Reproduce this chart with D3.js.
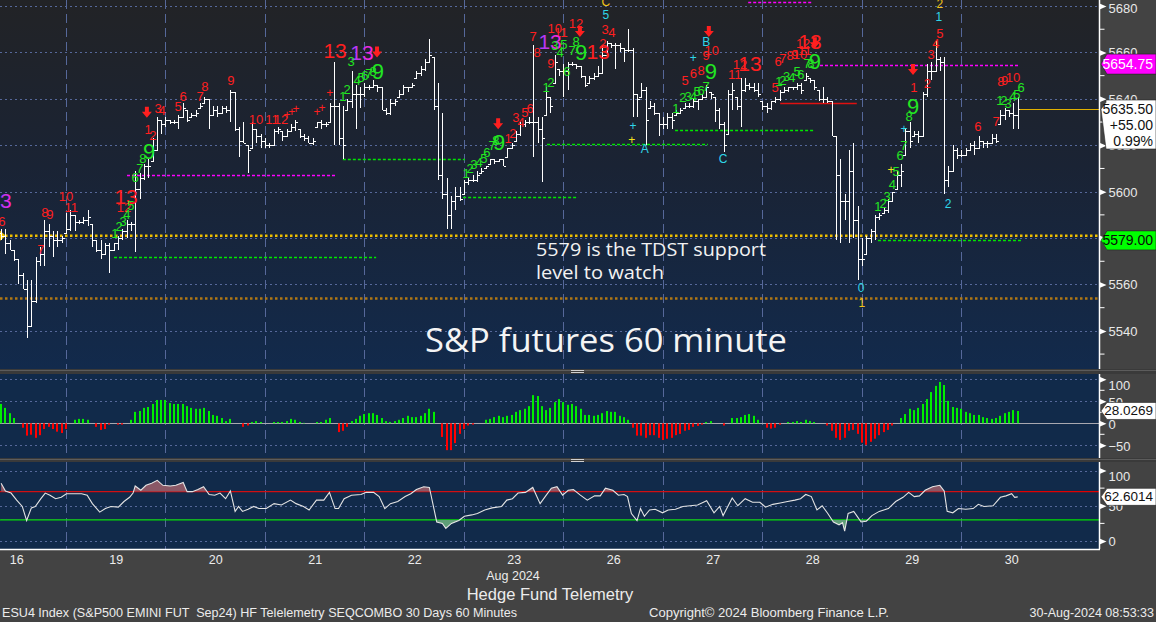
<!DOCTYPE html>
<html><head><meta charset="utf-8">
<script src="https://cdn.jsdelivr.net/npm/d3@7"></script>
<style>
body{margin:0;background:#434343;overflow:hidden}
svg{display:block}
text{font-family:"Liberation Sans",Arial,sans-serif}
</style></head>
<body><svg id="c" width="1156" height="622"></svg>
<script>
// ---------------- DATA ----------------
const days = ["16","19","20","21","22","23","26","27","28","29","30"];
const dayStartIdx = [15,38,61,84,107,130,153,176,199,222];
const priceTicks = [5540,5560,5580,5600,5620,5640,5660,5680];
const histTicks = [-50,0,50,100];
const rsiTicks = [0,50,100];

const opens = [5582,5581,5578,5575,5571,5564,5558,5542,5553,5570,5573,5583,5581,5579,5579,
5580,5584,5590,5587,5587,5588,5589,5579,5575,5573,5577,5575,5578,5580,5583,5586,5586,5601,5606,5611,5611,5618,5631,
5629,5631,5630,5630,5632,5636,5631,5633,5634,5637,5640,5633,5635,5634,5636,5635,5643,5627,5622,5621,5618,5627,5624,
5622,5620,5620,5626,5627,5624,5626,5628,5630,5624,5623,5621,5622,5630,5629,5629,5637,5637,5623,5620,5639,5642,5642,
5642,5645,5645,5646,5645,5635,5634,5638,5639,5642,5645,5645,5646,5651,5653,5656,5659,5637,5607,5599,5590,5596,5598,
5597,5604,5605,5605,5607,5609,5611,5614,5613,5614,5611,5619,5620,5625,5629,5630,5630,5630,5627,5623,5641,5637,5656,
5652,5652,5655,5655,5654,5650,5646,5649,5650,5651,5659,5664,5663,5663,5662,5661,5661,5642,5640,5644,5631,5637,5634,
5629,5629,5632,5631,5634,5635,5637,5637,5639,5640,5641,5645,5642,5635,5629,5620,5642,5644,5637,5644,5646,5645,5644,
5642,5637,5636,5639,5640,5643,5644,5645,5645,5646,5644,5650,5648,5645,5640,5640,5639,5624,5607,5596,5596,5609,5588,
5571,5571,5580,5583,5589,5590,5592,5596,5600,5607,5609,5626,5622,5625,5624,5642,5652,5652,5657,5656,5605,5609,5618,
5616,5616,5618,5620,5619,5622,5621,5621,5623,5622,5633,5635,5634,5633];
const highs = [5584,5584,5579,5575,5571,5565,5562,5562,5572,5576,5588,5586,5583,5583,5581,
5591,5592,5590,5588,5589,5592,5586,5579,5579,5578,5578,5578,5581,5584,5588,5587,5609,5608,5612,5614,5623,5632,5631,
5632,5631,5631,5633,5638,5635,5634,5635,5638,5641,5640,5637,5637,5637,5637,5644,5643,5628,5630,5620,5630,5627,5625,
5623,5621,5627,5628,5626,5627,5629,5631,5627,5625,5624,5623,5630,5631,5630,5638,5656,5638,5637,5640,5652,5646,5645,
5647,5646,5648,5646,5645,5636,5640,5640,5644,5646,5645,5647,5652,5654,5657,5666,5658,5647,5634,5606,5598,5602,5602,
5605,5606,5607,5609,5610,5611,5614,5614,5614,5614,5619,5621,5626,5630,5631,5632,5663,5632,5632,5645,5641,5659,5653,
5655,5656,5656,5655,5654,5650,5650,5651,5654,5663,5665,5664,5664,5664,5662,5670,5662,5642,5647,5645,5639,5638,5634,
5632,5634,5634,5635,5636,5638,5638,5640,5640,5642,5646,5643,5641,5636,5630,5644,5647,5641,5649,5649,5647,5647,5647,
5639,5638,5639,5641,5644,5645,5645,5645,5647,5647,5651,5649,5648,5644,5645,5641,5639,5624,5614,5599,5618,5621,5594,
5580,5581,5584,5590,5591,5593,5597,5600,5609,5612,5627,5630,5626,5626,5643,5655,5656,5665,5658,5658,5611,5620,5619,
5618,5619,5621,5622,5624,5622,5622,5625,5625,5635,5636,5635,5638,5641];
const lows = [5579,5573,5575,5570,5560,5558,5537,5542,5552,5568,5568,5576,5572,5576,5578,
5582,5583,5583,5586,5586,5585,5576,5574,5571,5573,5565,5575,5575,5579,5580,5583,5574,5597,5605,5606,5613,5618,5625,
5628,5629,5629,5627,5632,5630,5632,5632,5636,5638,5627,5633,5632,5634,5634,5630,5626,5615,5621,5608,5619,5621,5619,
5619,5619,5620,5625,5622,5624,5626,5626,5623,5622,5621,5620,5628,5627,5628,5630,5620,5620,5614,5635,5636,5627,5636,
5641,5644,5645,5643,5635,5633,5633,5637,5641,5642,5643,5645,5649,5650,5652,5656,5635,5605,5597,5584,5584,5592,5596,
5599,5603,5604,5604,5608,5610,5612,5612,5613,5611,5615,5619,5622,5624,5628,5629,5615,5621,5604,5633,5634,5647,5650,
5641,5644,5654,5653,5649,5645,5647,5648,5650,5651,5658,5662,5653,5660,5656,5660,5632,5632,5641,5620,5636,5633,5624,
5627,5627,5627,5633,5634,5636,5636,5636,5635,5640,5641,5640,5630,5627,5617,5625,5635,5635,5628,5643,5644,5643,5641,
5635,5634,5635,5638,5639,5643,5643,5644,5644,5642,5648,5647,5644,5639,5638,5638,5624,5579,5578,5588,5578,5580,5562,
5568,5573,5578,5579,5588,5591,5591,5596,5601,5602,5616,5619,5624,5621,5624,5641,5648,5652,5652,5599,5602,5609,5614,
5615,5616,5618,5616,5619,5619,5619,5621,5621,5629,5631,5632,5627,5627];
const closes = [5581,5578,5575,5571,5564,5558,5542,5553,5570,5573,5583,5581,5579,5579,5580,
5584,5590,5587,5587,5588,5589,5579,5575,5573,5577,5575,5578,5580,5583,5586,5586,5601,5606,5611,5611,5618,5631,5629,
5631,5630,5630,5632,5636,5631,5633,5634,5637,5640,5633,5635,5634,5636,5635,5643,5627,5622,5621,5618,5627,5624,5622,
5620,5620,5626,5627,5624,5626,5628,5630,5624,5623,5621,5622,5630,5629,5629,5637,5637,5623,5620,5639,5642,5642,5642,
5645,5645,5646,5645,5635,5634,5638,5639,5642,5645,5645,5646,5651,5653,5656,5659,5637,5607,5599,5590,5596,5598,5597,
5604,5605,5605,5607,5609,5611,5614,5613,5614,5611,5619,5620,5625,5629,5630,5630,5630,5627,5623,5641,5637,5656,5652,
5652,5655,5655,5654,5650,5646,5649,5650,5651,5659,5664,5663,5663,5662,5661,5661,5642,5640,5644,5631,5637,5634,5629,
5629,5632,5631,5634,5635,5637,5637,5639,5640,5641,5645,5642,5635,5629,5620,5642,5644,5637,5644,5646,5645,5644,5642,
5637,5636,5639,5640,5643,5644,5645,5645,5646,5644,5650,5648,5645,5640,5640,5639,5624,5607,5596,5596,5609,5588,5571,
5571,5580,5583,5589,5590,5592,5596,5600,5607,5609,5626,5622,5625,5624,5642,5652,5652,5657,5656,5605,5609,5618,5616,
5616,5618,5620,5619,5622,5621,5621,5623,5622,5633,5635,5634,5633,5635.5];

const histVals = [44,35,23,12,0,-10,-28,-26,-33,-27,-13,-8,-13,-19,-22,
-13,0,8,10,10,8,0,-8,-15,-13,-3,0,-3,-3,0,8,26,28,35,37,44,53,53,
53,46,44,44,44,39,35,33,33,35,28,19,17,12,5,10,0,0,-8,-5,3,5,3,
0,0,3,3,3,5,10,8,3,1,0,0,3,3,8,12,0,-20,-17,-8,5,10,17,
21,23,23,19,12,5,3,5,8,12,17,14,14,17,23,33,26,0,-31,-61,-61,-45,-24,
-13,-5,-3,0,0,8,10,14,17,14,17,19,26,30,33,39,64,62,39,30,35,48,55,
48,42,44,39,33,19,19,17,19,23,28,26,26,17,14,8,-10,-28,-28,-33,-27,-27,-33,
-38,-35,-33,-27,-24,-17,-15,-8,-6,-3,3,5,0,0,-5,0,12,12,14,19,21,17,8,
0,-10,-12,-10,-3,0,3,3,5,3,8,5,3,0,0,-5,-17,-33,-38,-33,-17,-15,-24,
-44,-49,-42,-35,-27,-20,-15,-5,0,12,21,33,30,35,44,55,71,85,94,87,51,37,35,
33,26,23,19,19,14,12,10,12,17,23,26,30,28.0269];

const rsiIdx = [0,1,2.3,3.6,4.9,5.9,7,7.9,9.2,10.2,11.3,12.6,13.9,15.1,16.9,18.6,19.9,21.1,22.8,24.1,
25.4,27.1,28.4,29.7,30.5,31,32.3,33.5,34.8,36.1,37.4,39.1,40.4,42.1,43,44.2,45.5,46.8,48.1,49.4,
50.6,51.9,53,54.1,54.9,55.8,57.1,58.4,59.6,61.3,63.1,64.8,66.9,68.2,69.9,71.2,72.9,74.6,75.9,77.2,
78,79.3,81,83.2,84.4,86.1,87.4,88.7,90,91.7,93.4,94.7,96,97.7,99,99.8,100.7,102,102.8,104.1,
105.8,107.1,108.8,110.1,111.8,113.5,115.7,116.9,118.2,119.5,121.2,122.9,124.6,125.9,127.2,128.5,129.8,131.1,132.3,133.9,
135.5,137.2,138.5,139.7,141.4,142.7,144,144.8,145.7,147,147.8,148.7,149.9,151.2,152.9,154.2,155.9,157.6,159.3,161,
163.1,164.8,166.1,166.9,169,170.3,172,173.7,175.4,176.7,178.4,180.1,181.8,183.5,184.8,186,187.3,188.6,189.8,191.1,
192.4,193.7,194.5,195,195.8,197.1,197.9,198.8,200,201.3,203,205.1,206.8,208.5,209.8,211.1,212.3,213.6,215.3,217,
218,218.7,220,221.3,223,224.7,225.9,227.2,229.3,231,232.3,233.6,234.3,235];
const rsiVals = [82,71,68,58,49,29,47,49,60,68,65,60,62,67,67,67,65,53,41,46,
49,48,56,62,68,78,72,79,82,86,79,78,79,83,70,70,73,77,66,65,
68,60,71,42,49,42,45,49,46,46,53,51,58,53,49,44,58,58,69,46,
46,60,65,66,69,69,63,46,53,56,63,67,73,77,76,53,27,25,18,25,
29,35,37,39,44,47,49,58,60,68,69,76,53,64,75,77,65,72,73,65,
58,64,64,75,72,65,66,63,39,29,46,35,44,45,40,44,45,49,50,51,
57,40,49,36,61,50,60,55,55,48,52,54,56,58,60,66,63,44,50,39,
27,23,26,14,39,42,35,27,28,36,42,46,56,62,69,63,64,72,77,79,
71,42,40,46,45,46,52,49,50,62,64,67,62,62.6014];
const rsiUpper = 70, rsiLower = 30;

// TD sequential annotations: [bar index, price, text, kind]
const marks = [
[1.1,5596,"3","M"],[0.2,5587,"6","r"],[9.2,5575,"7","r"],[10.1,5591,"8","r"],[11.3,5590,"9","r"],
[15,5598,"10","r"],[16.2,5593,"11","r"],[28.4,5593,"12","r"],[28.9,5598,"13","R"],
[26.3,5582,"1","g"],[27.3,5585,"2","g"],[28.2,5587,"3","g"],[29.1,5590,"4","g"],[30,5594,"5","g"],
[31,5606,"6","g"],[32.1,5610,"7","g"],[32.8,5614.5,"8","g"],[34.2,5617.5,"9","G"],
[33.7,5634,"","a"],
[34,5626.6,"1","r"],[35.1,5624,"2","r"],[36.3,5636,"3","r"],[37.2,5635,"4","r"],
[40.9,5636.5,"5","r"],[42.1,5641,"6","r"],[46,5641,"7","r"],[47.1,5645.5,"8","r"],[53.1,5648,"9","r"],
[58.9,5631,"10","r"],[62.6,5631,"11","r"],[64.7,5631,"12","r"],
[66.1,5633,"+","pr"],[67.2,5634.3,"+","pr"],[68.2,5635.6,"+","pr"],[73,5634.3,"+","pr"],[74.2,5636,"+","pr"],[76,5642.5,"+","pr"],
[77.2,5661,"13","R"],[83.4,5660,"13","M"],[86.9,5660,"","a"],
[79,5641,"1","g"],[80,5644,"2","g"],[80.9,5656,"3","g"],[82.3,5648,"4","g"],[83.2,5649,"5","g"],[84.1,5650,"6","g"],[85,5651,"7","g"],[86,5652,"8","g"],[87.1,5652,"9","G"],
[107.5,5608,"1","g"],[108.4,5610,"2","g"],[109.3,5611.5,"3","g"],[110.5,5612.5,"4","g"],[111.6,5614.5,"5","g"],[112.3,5617,"6","g"],[113.5,5620,"7","g"],[114.4,5622,"8","g"],[115.1,5621,"9","G"],
[114.9,5629,"","a"],
[117.2,5623,"1","r"],[118.3,5625,"2","r"],[119,5632,"3","r"],[120.2,5630,"4","r"],[121.1,5634,"5","r"],[122.3,5636,"6","r"],
[123,5667,"7","r"],[123.9,5660,"8","r"],[127.1,5655.4,"9","r"],[128,5670.5,"10","r"],[129.4,5668.4,"11","r"],
[126.9,5664.5,"13","M"],
[126,5645,"1","g"],[127.1,5647,"2","g"],[128,5663,"3","g"],[129.2,5660,"4","g"],[130.1,5663.6,"5","g"],[130.8,5652,"6","g"],[132,5661,"7","g"],[132.9,5664.5,"8","g"],[134.1,5660,"9","G"],
[132.9,5672.3,"12","r"],[133.8,5668.8,"","a"],[138,5660.6,"13","R"],
[139.1,5664,"2","r"],[139.6,5669.7,"3","r"],[141.2,5668.8,"4","r"],[139.8,5676,"5","c"],[139.8,5681.7,"C","y"],
[146.1,5628.3,"+","pc"],[145.8,5622.3,"+","py"],[148.8,5618.4,"A","c"],
[156,5636,"1","g"],[157.6,5640.4,"2","g"],[158.8,5640.8,"3","g"],[160,5641.2,"4","g"],[160.9,5643,"5","g"],[161.8,5643.8,"6","g"],[163,5645.5,"7","g"],
[158.1,5648,"5","r"],[160,5651,"6","r"],[161.8,5652.4,"8","r"],[163,5658.5,"9","r"],[164.3,5661,"10","r"],[164.1,5651.6,"9","G"],[163,5664.5,"B","c"],[163.6,5668.8,"","a"],[160,5657.6,"+","pc"],
[166.9,5614,"C","c"],
[169.6,5650.3,"11","r"],[170.8,5654.6,"12","r"],[173.1,5655.4,"13","R"],
[178.9,5644.7,"5","r"],
[179.8,5647.3,"1","g"],[180.7,5648,"2","g"],[181.6,5649.8,"3","g"],[182.8,5649,"4","g"],[184,5651.6,"5","g"],[184.9,5650.3,"6","g"],[186.3,5655.4,"7","g"],[187.2,5655.4,"8","g"],[188.1,5656,"9","G"],
[179.6,5656.3,"6","r"],[180.7,5657.6,"7","r"],[182.4,5658.5,"8","r"],[183.5,5659,"9","r"],[184.7,5659.3,"10","r"],[185.8,5661,"11","r"],[185.4,5664,"12","r"],[187,5664.5,"13","R"],[188.1,5664,"","a"],
[198.8,5558.5,"0","c"],[199,5552,"1","y"],
[202.7,5593.4,"1","g"],[203.9,5595,"2","g"],[204.8,5598,"3","g"],[206,5603,"4","g"],[205.7,5609.3,"+","py"],[206.9,5608.5,"5","g"],[207.8,5615.4,"6","g"],[208.7,5620,"7","g"],[208.7,5627,"+","pc"],[209.9,5632.2,"8","g"],[210.8,5636.5,"9","G"],
[210.8,5652.4,"","a"],[211,5645,"1","r"],[214.1,5646.4,"2","r"],[215,5659.3,"3","r"],[216.1,5664,"4","r"],[217,5668,"5","r"],[216.8,5675.3,"1","c"],[217,5681,"2","y"],
[218.9,5594.7,"2","c"],
[225.8,5628,"6","r"],[230,5630.4,"7","r"],[231.1,5647.3,"8","r"],[232,5647.7,"9","r"],[233.9,5649,"10","r"],
[230.9,5639.5,"1","g"],[231.8,5639.5,"2","g"],[232.8,5637.8,"3","g"],[233.9,5641.2,"4","g"],[234.8,5642,"5","g"],[235.8,5644.7,"6","g"]
];

// TDST / risk levels: [from bar, to bar, price, kind]
const levels = [
[29.1,77.6,5607.2,"m"],[26.1,86.7,5571.8,"g"],[79,107.2,5614.1,"g"],[106.8,133.4,5597.7,"g"],
[126.2,163.4,5620.5,"g"],[155.8,187.7,5626.6,"g"],[180.1,197.8,5638.2,"r"],[189.3,235.5,5654.75,"m"],
[172.7,187.7,5681.7,"m"],[202.7,236,5579,"g"]
];
const userLines = [[5581,"yellow"],[5554,"brown"]];
const lastPrice = 5635.5, lastChange = "+55.00", lastPct = "0.99%";
const magLevel = 5654.75, tdstLevel = 5579.00;

// ---------------- CHART ----------------
const svg = d3.select("#c");
const PW = 1099;
const M = {top:0, bot:369}, HP = {top:374, bot:458}, RP = {top:462, bot:549};
const x = d3.scaleLinear().domain([0,235]).range([1.1,1017.7]);
const y = d3.scaleLinear().domain([5524,5682.6]).range([368,0]);
const yH = d3.scaleLinear().domain([-50,100]).range([445.3,379.3]);
const yR = d3.scaleLinear().domain([0,100]).range([541,470.5]);

const defs = svg.append("defs");
const bg = defs.append("linearGradient").attr("id","bgMain").attr("x1",0).attr("y1",0).attr("x2",0).attr("y2",1);
bg.append("stop").attr("offset","0%").attr("stop-color","#222326");
bg.append("stop").attr("offset","45%").attr("stop-color","#1a2334");
bg.append("stop").attr("offset","100%").attr("stop-color","#122a4c");
const mg = defs.append("linearGradient").attr("id","mag").attr("x1",0).attr("x2",1).attr("y1",0).attr("y2",0);
mg.append("stop").attr("offset","0%").attr("stop-color","#a040ff");
mg.append("stop").attr("offset","100%").attr("stop-color","#ff22d6");
defs.append("clipPath").attr("id","clipMain").append("rect").attr("x",0).attr("y",0).attr("width",PW).attr("height",M.bot);
defs.append("clipPath").attr("id","clipUp").append("rect").attr("x",0).attr("y",RP.top).attr("width",PW).attr("height",yR(rsiUpper)-RP.top);
defs.append("clipPath").attr("id","clipDn").append("rect").attr("x",0).attr("y",yR(rsiLower)).attr("width",PW).attr("height",RP.bot-yR(rsiLower));

svg.append("rect").attr("width",1156).attr("height",622).attr("fill","#434343");
svg.append("rect").attr("x",0).attr("y",0).attr("width",PW).attr("height",M.bot).attr("fill","url(#bgMain)");
svg.append("rect").attr("x",0).attr("y",HP.top).attr("width",PW).attr("height",HP.bot-HP.top).attr("fill","#112a4a");
svg.append("rect").attr("x",0).attr("y",RP.top).attr("width",PW).attr("height",RP.bot-RP.top).attr("fill","#112a4a");
// separators
[[M.bot,HP.top],[HP.bot,RP.top]].forEach(([a,b])=>{
  svg.append("rect").attr("x",0).attr("y",a).attr("width",1156).attr("height",b-a).attr("fill","#3a3a3a");
  svg.append("line").attr("x1",0).attr("x2",1156).attr("y1",a+1.5).attr("y2",a+1.5).attr("stroke","#5c5c5c").attr("stroke-width",1);
  svg.append("line").attr("x1",571).attr("x2",584).attr("y1",a+1.5).attr("y2",a+1.5).attr("stroke","#cfcfcf");
  svg.append("line").attr("x1",571).attr("x2",584).attr("y1",a+3.5).attr("y2",a+3.5).attr("stroke","#cfcfcf");
});

const gridCol = "#56689a";
[[M.top,M.bot],[HP.top,HP.bot],[RP.top,RP.bot]].forEach(([t,b])=>{
  svg.append("g").selectAll("line").data(dayStartIdx).join("line")
    .attr("x1",d=>Math.round(x(d))+0.5).attr("x2",d=>Math.round(x(d))+0.5)
    .attr("y1",t).attr("y2",b).attr("stroke",gridCol).attr("stroke-width",1).attr("stroke-dasharray","9,5");
});
function hgrid(vals, sc){
  svg.append("g").selectAll("line").data(vals).join("line")
    .attr("x1",0).attr("x2",PW).attr("y1",d=>Math.round(sc(d))+0.5).attr("y2",d=>Math.round(sc(d))+0.5)
    .attr("stroke",gridCol).attr("stroke-width",1).attr("stroke-dasharray","2,3");
}
hgrid(priceTicks, y);
hgrid(histTicks.filter(d=>d!==0), yH);
hgrid(rsiTicks, yR);

// ---------- main pane ----------
const mainG = svg.append("g").attr("clip-path","url(#clipMain)");
mainG.selectAll(".ul").data(userLines).join("line")
  .attr("x1",0).attr("x2",PW).attr("y1",d=>y(d[0])).attr("y2",d=>y(d[0]))
  .attr("stroke",d=>d[1]==="yellow"?"#f0c000":"#b07814").attr("stroke-width",2.5).attr("stroke-dasharray","2.5,2.5");
mainG.append("path").attr("d",`M0,${y(5581)-5}L6,${y(5581)}L0,${y(5581)+5}Z`).attr("fill","#f0c000");
const lvColor = {m:"#ff00ff", g:"#00e600", r:"#e01010"};
mainG.selectAll(".lv").data(levels).join("line")
  .attr("x1",d=>x(d[0])).attr("x2",d=>x(d[1])).attr("y1",d=>Math.round(y(d[2]))+0.5).attr("y2",d=>Math.round(y(d[2]))+0.5)
  .attr("stroke",d=>lvColor[d[3]]).attr("stroke-width",1.5)
  .attr("stroke-dasharray",d=>d[3]==="r"?null:"3,2");
svg.append("line").attr("x1",x(235)+2).attr("x2",PW).attr("y1",Math.round(y(lastPrice))+0.5).attr("y2",Math.round(y(lastPrice))+0.5)
  .attr("stroke","#e0b000").attr("stroke-width",1.2);

// OHLC bars
const bars = d3.range(closes.length);
const clamp = (v,a,b)=>Math.max(b,Math.min(a,v));
mainG.append("g").selectAll("path").data(bars).join("path")
  .attr("d",i=>{
    const cx = Math.round(x(i))+0.5;
    const o = Math.round(y(clamp(opens[i],highs[i],lows[i])))+0.5;
    const c = Math.round(y(closes[i]))+0.5;
    return `M${cx},${y(highs[i])}V${y(lows[i])}M${cx-2.5},${o}H${cx}M${cx},${c}H${cx+2.5}`;
  })
  .attr("stroke","#ffffff").attr("stroke-width",1).attr("fill","none").attr("shape-rendering","crispEdges");

// annotations
const ks = {
  r:{f:"#ff1f1f",s:13}, g:{f:"#22e622",s:13}, R:{f:"#ff1f1f",s:21}, G:{f:"#22e622",s:22},
  M:{f:"url(#mag)",s:21}, c:{f:"#2fd6e8",s:12}, y:{f:"#f2c419",s:12},
  pr:{f:"#ff1f1f",s:12}, pc:{f:"#2fd6e8",s:12}, py:{f:"#f4e21c",s:12}
};
mainG.append("g").selectAll("text").data(marks.filter(d=>d[3]!=="a")).join("text")
  .attr("x",d=>x(d[0])).attr("y",d=>y(d[1]))
  .attr("text-anchor","middle").attr("dominant-baseline","central")
  .attr("fill",d=>ks[d[3]].f).style("font-size",d=>ks[d[3]].s+"px")
  .text(d=>d[2]);
mainG.append("g").selectAll("path").data(marks.filter(d=>d[3]==="a")).join("path")
  .attr("d",d=>{const cx=x(d[0]), cy=y(d[1]); return `M${cx-2},${cy-6}H${cx+2}V${cy-1}H${cx+5}L${cx},${cy+5}L${cx-5},${cy-1}H${cx-2}Z`;})
  .attr("fill","#ff1f1f");

// Notes
svg.append("text").attr("x",536).attr("y",256).attr("fill","#f2f2f2").style("font-family","'Open Sans',sans-serif").style("font-size","17.5px")
  .attr("textLength",230).attr("lengthAdjust","spacingAndGlyphs").text("5579 is the TDST support");
svg.append("text").attr("x",536).attr("y",279).attr("fill","#f2f2f2").style("font-family","'Open Sans',sans-serif").style("font-size","17.5px")
  .attr("textLength",128).attr("lengthAdjust","spacingAndGlyphs").text("level to watch");
svg.append("text").attr("x",425).attr("y",352).attr("fill","#f4f4f4").style("font-family","'Open Sans',sans-serif").style("font-size","33px")
  .attr("textLength",362).attr("lengthAdjust","spacingAndGlyphs").text("S&P futures 60 minute");

// ---------- histogram pane ----------
svg.append("line").attr("x1",0).attr("x2",PW).attr("y1",Math.round(yH(0))+0.5).attr("y2",Math.round(yH(0))+0.5).attr("stroke","#a8a8b0").attr("stroke-width",1.2);
svg.append("g").selectAll("rect").data(bars).join("rect")
  .attr("x",i=>Math.round(x(i))-1).attr("width",2)
  .attr("y",i=>Math.min(yH(0),yH(histVals[i]))).attr("height",i=>Math.abs(yH(histVals[i])-yH(0)))
  .attr("fill",i=>histVals[i]>=0?"#00ee00":"#ff0000");

// ---------- RSI pane ----------
svg.append("line").attr("x1",0).attr("x2",PW).attr("y1",yR(rsiUpper)).attr("y2",yR(rsiUpper)).attr("stroke","#e00000").attr("stroke-width",1.2);
svg.append("line").attr("x1",0).attr("x2",PW).attr("y1",yR(rsiLower)).attr("y2",yR(rsiLower)).attr("stroke","#00e000").attr("stroke-width",1.2);
const rsiPts = rsiIdx.map((d,i)=>[d,rsiVals[i]]);
svg.append("path").datum(rsiPts).attr("clip-path","url(#clipUp)")
  .attr("d",d3.area().x(d=>x(d[0])).y0(yR(rsiUpper)).y1(d=>yR(d[1]))).attr("fill","#8a5866");
svg.append("path").datum(rsiPts).attr("clip-path","url(#clipDn)")
  .attr("d",d3.area().x(d=>x(d[0])).y0(yR(rsiLower)).y1(d=>yR(d[1]))).attr("fill","#5f9f78");
svg.append("path").datum(rsiPts).attr("d",d3.line().x(d=>x(d[0])).y(d=>yR(d[1])))
  .attr("fill","none").attr("stroke","#e4e4e4").attr("stroke-width",1.1);
svg.append("line").attr("x1",0).attr("x2",PW+1).attr("y1",RP.bot+0.5).attr("y2",RP.bot+0.5).attr("stroke","#ffffff").attr("stroke-width",1.5);

// ---------- right axes ----------
function rightAxis(sc, ticks, minor, t, b, fmt, topMin, shift){
  const g = svg.append("g").attr("transform",`translate(${PW+0.5},0)`);
  g.call(d3.axisRight(sc).tickValues(ticks).tickSize(0).tickSizeOuter(0).tickPadding(9).tickFormat(fmt));
  g.select(".domain").remove();
  g.append("line").attr("x1",0).attr("x2",0).attr("y1",t).attr("y2",b).attr("stroke","#fff").attr("stroke-width",1.5);
  g.selectAll(".tick text").attr("fill","#e8e8e8").style("font-size","13px").attr("text-anchor","start")
    .attr("dy",d=>{const p=sc(d); return Math.max(0, topMin-(p-t)) + 4.5 + shift; });
  g.selectAll(".tick").append("path").attr("d","M0,-3L7,0L0,3Z").attr("fill","#fff");
  g.selectAll(".mt").data(minor).join("line").attr("x1",0).attr("x2",5).attr("y1",d=>sc(d)).attr("y2",d=>sc(d)).attr("stroke","#fff");
  return g;
}
rightAxis(y, priceTicks, [5530,5550,5570,5590,5610,5630,5650,5670], M.top, M.bot, d3.format("d"), 8, 0);
rightAxis(yH, histTicks, [-25,25,75], HP.top, HP.bot, d=>d<0?"\u2212"+Math.abs(d):d, 10, 1);
rightAxis(yR, rsiTicks, [25,75], RP.top, RP.bot, d3.format("d"), 14, 0);

// value boxes
function box(cy, h, fill){
  svg.append("path").attr("d",`M${PW+2},${cy}L${PW+8},${cy-h/2}H1156V${cy+h/2}H${PW+8}Z`).attr("fill",fill).attr("stroke","#222").attr("stroke-width",0.6);
}
function boxText(txt, ty, color, size){
  svg.append("text").attr("x",1153).attr("y",ty).attr("text-anchor","end").attr("dominant-baseline","central")
    .attr("fill",color).style("font-size",(size||13.5)+"px").text(txt);
}
box(y(magLevel)-0.5, 20, "#ff00ff");
boxText(d3.format(".2f")(magLevel), y(magLevel)-0.5, "#ffffff", 14);
svg.append("path").attr("d",`M${PW+2},${y(lastPrice)}L${PW+7},${y(lastPrice)-7}V100H1156V149H${PW+7}Z`).attr("fill","#ffffff").attr("stroke","#222").attr("stroke-width",0.6);
boxText(d3.format(".2f")(lastPrice), 108.5, "#111", 14);
boxText(lastChange, 125, "#111", 14);
boxText(lastPct, 141, "#111", 14);
box(y(tdstLevel), 19, "#00ff00");
boxText(d3.format(".2f")(tdstLevel), y(tdstLevel), "#0a0a0a", 14);
const hv = histVals[histVals.length-1], rv = rsiVals[rsiVals.length-1];
box(yH(hv), 17, "#ffffff");
boxText(d3.format(".4f")(hv), yH(hv), "#111", 13.5);
box(yR(rv), 17, "#ffffff");
boxText(d3.format(".4f")(rv), yR(rv), "#111", 13.5);

// ---------- bottom axis & footer ----------
const starts = [dayStartIdx[0]-23].concat(dayStartIdx);
const dayCenters = starts.map(s=>s+11.5);
const bx = svg.append("g").attr("transform",`translate(0,${RP.bot})`)
  .call(d3.axisBottom(x).tickValues(dayCenters).tickSize(0).tickPadding(6).tickFormat((d,i)=>days[i]));
bx.select(".domain").remove();
bx.selectAll("text").attr("fill","#ececec").style("font-size","12.5px");

svg.append("text").attr("x",513).attr("y",580).attr("text-anchor","middle").attr("fill","#ececec").style("font-size","12.5px").text("Aug 2024");
svg.append("text").attr("x",550).attr("y",600).attr("text-anchor","middle").attr("fill","#ececec").style("font-size","16.5px").text("Hedge Fund Telemetry");
svg.append("text").attr("x",2).attr("y",617).attr("fill","#ececec").style("font-size","12.5px").style("white-space","pre")
  .attr("textLength",515).attr("lengthAdjust","spacingAndGlyphs")
  .text("ESU4 Index (S&P500 EMINI FUT  Sep24) HF Telelemetry SEQCOMBO 30 Days 60 Minutes");
svg.append("text").attr("x",649).attr("y",617).attr("fill","#ececec").style("font-size","12.5px")
  .attr("textLength",240).attr("lengthAdjust","spacingAndGlyphs").text("Copyright\u00a9 2024 Bloomberg Finance L.P.");
svg.append("text").attr("x",1154).attr("y",617).attr("text-anchor","end").attr("fill","#ececec").style("font-size","12.5px").text("30-Aug-2024 08:53:33");
</script></body></html>
